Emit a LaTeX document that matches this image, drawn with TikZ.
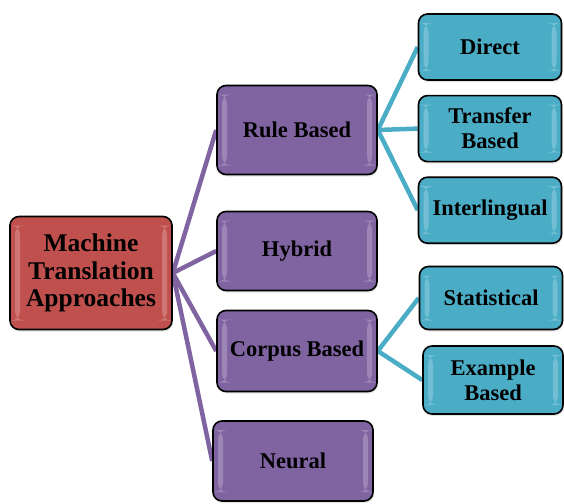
\documentclass[tikz,border=0pt]{standalone}
\usepackage{fontspec}
\setmainfont{Liberation Serif}
\usepackage{tikz}
\usetikzlibrary{positioning, shadows, backgrounds}

\definecolor{mtred}{HTML}{C0504D}
\definecolor{mtpurple}{HTML}{8064A2}
\definecolor{mtcyan}{HTML}{4BACC6}

\begin{document}
\begin{tikzpicture}[x=1pt, y=-1pt]
% Define styles
\tikzstyle{gloss} = [path picture={
  \fill[white, opacity=0.22] ([xshift=5pt, yshift=-9pt]path picture bounding box.north west) rectangle ([xshift=10pt, yshift=9pt]path picture bounding box.south west);
  \fill[white, opacity=0.22] ([xshift=-10pt, yshift=-9pt]path picture bounding box.north east) rectangle ([xshift=-5pt, yshift=9pt]path picture bounding box.south east);}]
\tikzstyle{box} = [rectangle, rounded corners=9pt, draw=black, line width=1.6pt, align=center, font=\bfseries\fontsize{22.5}{25}\selectfont, drop shadow={opacity=0.2, shadow xshift=1pt, shadow yshift=-2pt}, gloss]
\tikzstyle{rootbox} = [box, minimum width=162pt, minimum height=113pt, fill=mtred, font=\bfseries\fontsize{25.5}{27.5}\selectfont]
\tikzstyle{midbox} = [box, minimum width=160pt, fill=mtpurple]
\tikzstyle{leafbox} = [box, minimum width=143pt, minimum height=66pt, fill=mtcyan]
\tikzstyle{midline} = [line width=4.5pt, mtpurple]
\tikzstyle{leafline} = [line width=4.5pt, mtcyan]
\useasboundingbox (0,0) rectangle (564,503);
% Place nodes
\node (mt) [rootbox] at (91,273) {Machine\\Translation\\Approaches};
\node (rule) [midbox, minimum height=89pt] at (297,130) {Rule Based};
\node (hybrid) [midbox, minimum height=79pt] at (297,251) {Hybrid};
\node (corpus) [midbox, minimum height=81pt] at (297,351) {Corpus Based};
\node (neural) [midbox, minimum height=80pt] at (293,461) {Neural};
\node (direct) [leafbox] at (490,47) {Direct};
\node (transfer) [leafbox, below=14pt of direct] {Transfer\\Based};
\node (inter) [leafbox, below=14pt of transfer] {Interlingual};
\node (stat) [leafbox, minimum height=63pt] at (491,298) {Statistical};
\node (example) [leafbox, minimum height=68pt, minimum width=140pt] at (493,380) {Example\\Based};
% Draw connectors
\begin{scope}[on background layer]
\draw [midline] (mt.east) -- (rule.west);
\draw [midline] (mt.east) -- (hybrid.west);
\draw [midline] (mt.east) -- (corpus.west);
\draw [midline] (mt.east) -- (neural.west);
\draw [leafline] (rule.east) -- (direct.west);
\draw [leafline] (rule.east) -- (transfer.west);
\draw [leafline] (rule.east) -- (inter.west);
\draw [leafline] (corpus.east) -- (stat.west);
\draw [leafline] (corpus.east) -- (example.west);
\end{scope}
\end{tikzpicture}
\end{document}
